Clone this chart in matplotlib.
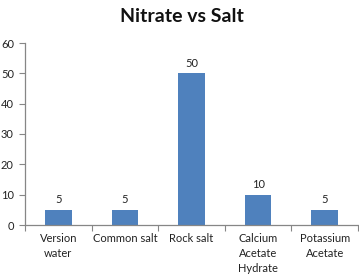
import matplotlib
matplotlib.use("Agg")
import matplotlib.pyplot as plt

categories = ["Version\nwater", "Common salt", "Rock salt", "Calcium\nAcetate\nHydrate", "Potassium\nAcetate"]
values = [5, 5, 50, 10, 5]
yticks = [0, 10, 20, 30, 40, 50, 60]

plt.rcParams['font.family'] = ['Lato', 'DejaVu Sans']

fig = plt.figure(figsize=(3.59, 2.8), dpi=100)
ax = fig.add_axes([25 / 359, 55 / 280, 333 / 359, 182 / 280])

x = list(range(len(categories)))
bars = ax.bar(x, values, width=0.4, color="#4F81BD")
for xi, v in zip(x, values):
    ax.text(xi, v + 1.5, str(v), ha="center", va="bottom", fontsize=8, color="#222222")

ax.set_xlim(-0.5, len(categories) - 0.5)
ax.set_ylim(0, 60)
ax.set_yticks(yticks)
ax.set_xticks([i - 0.5 for i in range(len(categories) + 1)], minor=False)
ax.set_xticklabels([])
ax.set_xticks(x, minor=True)
ax.set_xticklabels(categories, minor=True, fontsize=8, color="#222222", linespacing=1.45)
ax.tick_params(axis="x", which="minor", length=0, pad=6)
ax.tick_params(axis="x", which="major", length=4, color="#868686")
ax.tick_params(axis="y", length=4, color="#868686", labelsize=8, labelcolor="#222222", pad=4)

for side in ["top", "right"]:
    ax.spines[side].set_visible(False)
for side in ["left", "bottom"]:
    ax.spines[side].set_color("#868686")
    ax.spines[side].set_linewidth(0.9)

fig.text(182 / 359, 1 - 16 / 280, "Nitrate vs Salt", ha="center", va="center",
         fontsize=14, fontweight="bold", color="#111111")

fig.savefig("out.png", dpi=100)
